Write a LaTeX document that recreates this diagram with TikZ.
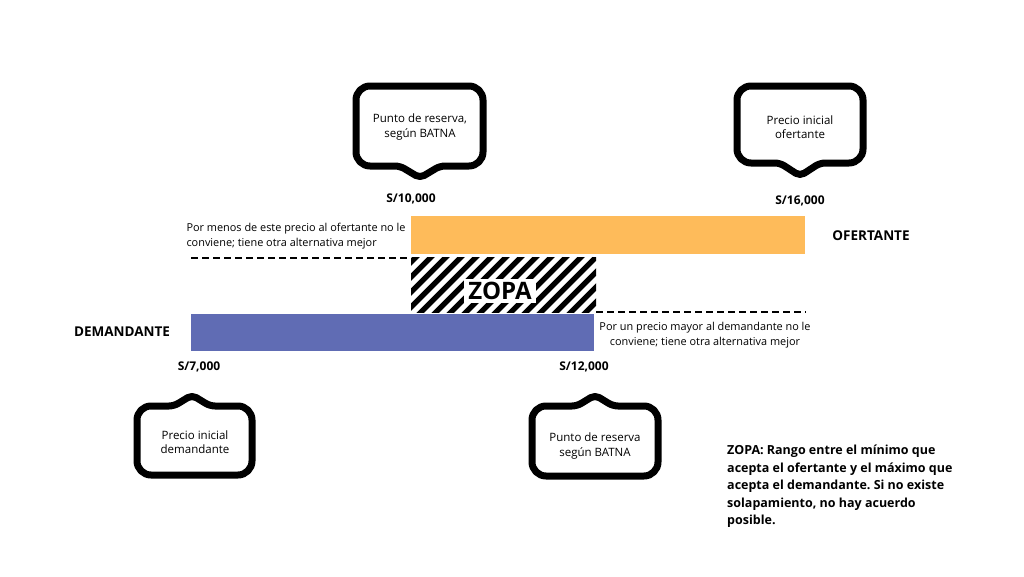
\documentclass[tikz,border=0pt]{standalone}
\usepackage{fontspec}
\setmainfont{Open Sans}
\definecolor{ofcol}{RGB}{254,187,90}
\definecolor{decol}{RGB}{96,108,180}
\frenchspacing
\begin{document}
\begin{tikzpicture}[x=1pt,y=-1pt,
  callout/.style={draw=black, line width=7pt, fill=white, line join=round},
  ctext/.style={font=\fontsize{11.5}{14.5}\selectfont, align=center},
  lbl/.style={font=\bfseries\fontsize{12}{14}\selectfont},
  side/.style={font=\bfseries\fontsize{13.5}{15}\selectfont},
  note/.style={font=\fontsize{10.9}{15.5}\selectfont},
  desc/.style={font=\bfseries\fontsize{12.5}{17.5}\selectfont, align=left, anchor=north west, inner sep=0pt},
  dashline/.style={draw=black, line width=2.5pt, dash pattern=on 7pt off 4pt},
  bar/.style={inner sep=0pt, outer sep=0pt, anchor=north west, draw=none}]
\fill[white] (0,0) rectangle (1024,576);
\useasboundingbox (0,0) rectangle (1024,576);

% callouts
\draw[callout] (420,86) [rounded corners=14] -- (483,86) -- (483,166) [rounded corners=5] -- (440,166) -- (420,178) -- (400,166) [rounded corners=14] -- (356,166) -- (356,86) -- cycle;
\draw[callout] (800,86) [rounded corners=14] -- (863,86) -- (863,163) [rounded corners=5] -- (820,163) -- (800,176) -- (780,163) [rounded corners=14] -- (737,163) -- (737,86) -- cycle;
\draw[callout] (192,475) [rounded corners=14] -- (137,475) -- (137,406) [rounded corners=5] -- (174,406) -- (192,395) -- (210,406) [rounded corners=14] -- (252,406) -- (252,475) -- cycle;
\draw[callout] (595,476) [rounded corners=14] -- (532,476) -- (532,406) [rounded corners=5] -- (577,406) -- (595,395) -- (613,406) [rounded corners=14] -- (658,406) -- (658,476) -- cycle;

\node[ctext] (c1) at (420,127) {Punto de reserva,\\según BATNA};
\node[ctext] (c2) at (800,127) {Precio inicial\\ofertante};
\node[ctext] (c3) at (195,442) {Precio inicial\\demandante};
\node[ctext] (c4) at (595,446) {Punto de reserva\\según BATNA};

% bars
\node[bar, fill=ofcol, minimum width=394pt, minimum height=38pt] (ofr) at (411,216) {};
\node[bar, fill=decol, minimum width=403pt, minimum height=37pt] (dem) at (191,314) {};
\node[bar, minimum width=185pt, minimum height=55pt] (zopa) at (411,257) {};
\begin{scope}
\clip (zopa.north west) rectangle (zopa.south east);
\foreach \i in {-75,-60,...,240} \draw[line width=5.3pt] (411+\i,322) -- ++(80,-80);
\end{scope}
\node[fill=white, font=\bfseries\fontsize{24}{24}\selectfont, inner xsep=4pt, inner ysep=3pt] (zl) at (500,291) {ZOPA};

% dashed lines
\coordinate (dl1) at (191,258);
\coordinate (dl2) at (411,258);
\coordinate (dr1) at (596,312);
\coordinate (dr2) at (806,312);
\draw[dashline] (dl1) -- (dl2);
\draw[dashline] (dr1) -- (dr2);

% labels
\node[lbl] (p10) at (411,199) {S/10,000};
\node[lbl] (p16) at (800,201) {S/16,000};
\node[lbl] (p7) at (199,367) {S/7,000};
\node[lbl] (p12) at (584,367) {S/12,000};
\node[side] (of) at (871,236) {OFERTANTE};
\node[side] (dm) at (122,332) {DEMANDANTE};

\node[note, align=left, anchor=west] (nl) at (183,236) {Por menos de este precio al ofertante no le\\conviene; tiene otra alternativa mejor};
\node[note, align=center] (nr) at (705,335) {Por un precio mayor al demandante no le\\conviene; tiene otra alternativa mejor};

\node[desc] (zd) at (727,445) {ZOPA: Rango entre el mínimo que\\acepta el ofertante y el máximo que\\acepta el demandante. Si no existe\\solapamiento, no hay acuerdo\\posible.};
\end{tikzpicture}
\end{document}
